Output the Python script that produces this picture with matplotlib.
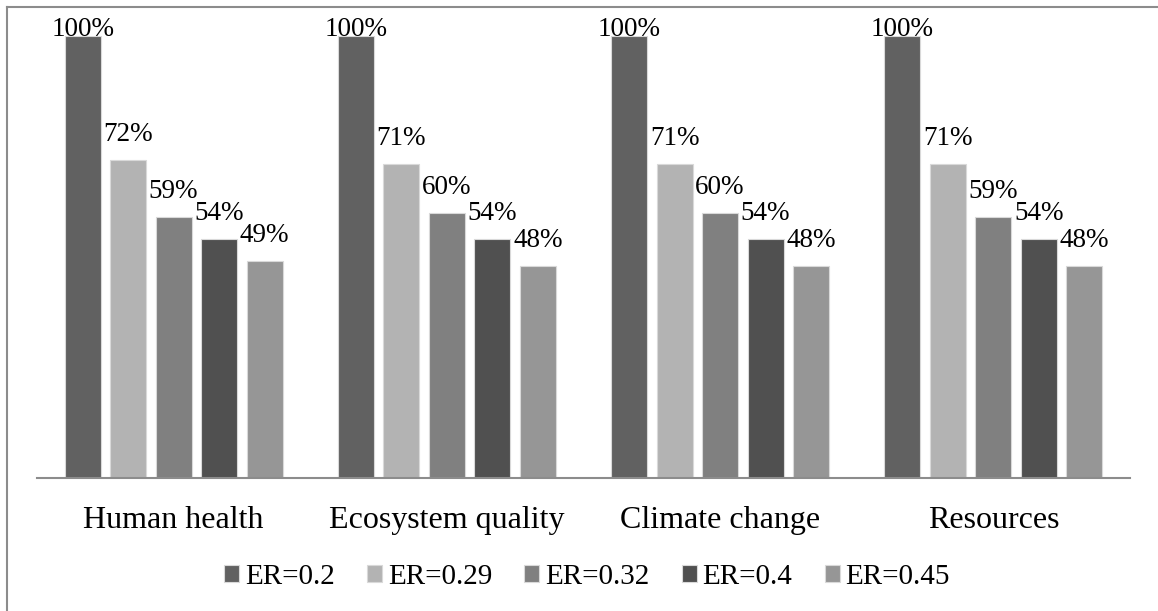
import matplotlib
matplotlib.use("Agg")
import matplotlib.pyplot as plt
from matplotlib.lines import Line2D
import numpy as np

categories = ["Human health", "Ecosystem quality", "Climate change", "Resources"]
series_names = ["ER=0.2", "ER=0.29", "ER=0.32", "ER=0.4", "ER=0.45"]
er_020 = [100, 100, 100, 100]
er_029 = [72, 71, 71, 71]
er_032 = [59, 60, 60, 59]
er_040 = [54, 54, 54, 54]
er_045 = [49, 48, 48, 48]
series_values = [er_020, er_029, er_032, er_040, er_045]
colors = ["#616161", "#b3b3b3", "#808080", "#505050", "#969696"]

plt.rcParams["font.family"] = ["Liberation Serif", "DejaVu Serif"]

W, H = 1158, 611
fig = plt.figure(figsize=(W / 100, H / 100), dpi=100)

# plot area in pixel terms: x 37..1130, baseline 478, full-scale bar top 36
x0, x1, ytop, ybase = 37, 1130, 36, 478
ax = fig.add_axes([x0 / W, 1 - ybase / H, (x1 - x0) / W, (ybase - ytop) / H])

n = len(series_values)
step = 45.5 / 273.25
width = 36 / 273.25
xc = np.arange(len(categories)) + 0.5
px_per_unit = (ybase - ytop) / 100.0
lift = 19 / px_per_unit

handles = []
for i, (vals, col, name) in enumerate(zip(series_values, colors, series_names)):
    pos = xc + (i - (n - 1) / 2) * step
    b = ax.bar(pos, vals, width=width, color=col, edgecolor="#d9d9d9",
               linewidth=0.8, label=name, zorder=2)
    handles.append(b)
    for p, v in zip(pos, vals):
        ty = min(v + lift, 100)
        ax.text(p, ty, f"{v}%", ha="center", va="baseline", fontsize=19.5,
                color="black", clip_on=False, zorder=3)

ax.set_xlim(0, len(categories))
ax.set_ylim(0, 100)
for s in ["top", "right", "left"]:
    ax.spines[s].set_visible(False)
ax.spines["bottom"].set_color("#8c8c8c")
ax.spines["bottom"].set_linewidth(1.5)
ax.set_yticks([])
ax.set_xticks(xc)
ax.set_xticklabels(categories, fontsize=23)
ax.tick_params(axis="x", length=0, pad=20)
ax.patch.set_alpha(0)

leg = fig.legend(handles=handles, labels=series_names, loc="center",
                 bbox_to_anchor=(587 / W, 1 - 577 / H), ncol=5, frameon=False,
                 fontsize=21, handlelength=0.52, handleheight=0.52,
                 handletextpad=0.2, columnspacing=1.1)

# outer frame (left and top edges)
fig.add_artist(Line2D([7.5 / W, 7.5 / W], [0, 1 - 6.5 / H], color="#8c8c8c",
                      linewidth=1.5, transform=fig.transFigure))
fig.add_artist(Line2D([7.5 / W, 1], [1 - 6.5 / H, 1 - 6.5 / H], color="#8c8c8c",
                      linewidth=1.5, transform=fig.transFigure))

fig.savefig("out.png", dpi=100)
